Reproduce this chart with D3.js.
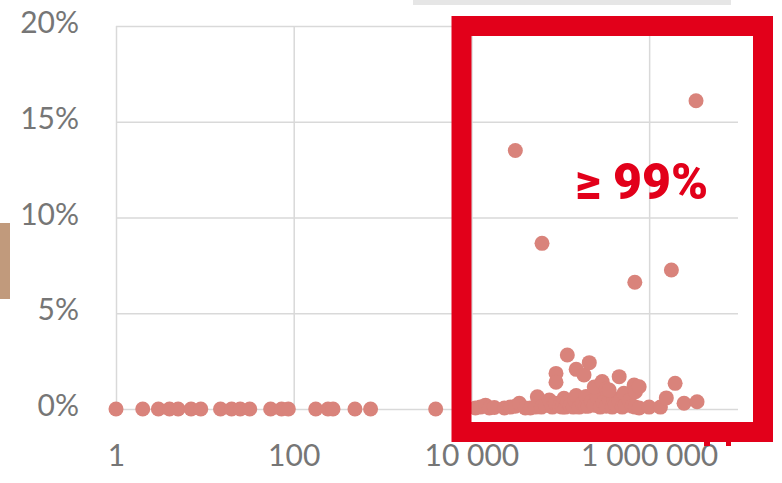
<!DOCTYPE html>
<html>
<head>
<meta charset="utf-8">
<script src="https://cdn.jsdelivr.net/npm/d3@7"></script>
<style>
  html, body { margin: 0; padding: 0; background: #fff; }
  svg { display: block; }
</style>
</head>
<body>
<svg id="chart" width="782" height="483"></svg>
<script>
// Share of revenue (y) against company size (x, log scale)
const sizeValues = [
  1, 2, 3, 4, 5, 7, 9, 15, 20, 25, 32, 55, 73, 87, 177, 243, 277, 489, 733, 3960,
  11100, 12600, 14400, 15900, 18100, 23500, 27400, 31200, 34600, 40400, 46000, 52400,
  55200, 61200, 67800, 75200, 81300, 87900, 97500, 105000, 110000, 114000, 120000,
  129000, 140000, 145000, 151000, 163000, 177000, 191000, 195000, 206000, 223000,
  241000, 261000, 281000, 304000, 329000, 355000, 384000, 400000, 415000, 460000,
  498000, 520000, 538000, 596000, 644000, 696000, 772000, 998000, 1340000,
  // raised points inside the cluster
  89500, 89500, 120000, 151000, 185000, 212000, 241000, 296000, 330000, 355000,
  460000, 678000, 700000, 772000, 1560000, 1960000, 2470000, 3460000,
  // outliers
  31200, 62300, 690000, 1780000, 3370000
];
const shareValues = [
  0, 0, 0, 0, 0, 0, 0, 0, 0, 0, 0, 0, 0, 0, 0, 0, 0, 0, 0, 0,
  0.05, 0.1, 0.2, 0.05, 0.08, 0.05, 0.1, 0.15, 0.3, 0.05, 0.05, 0.1,
  0.64, 0.1, 0.2, 0.47, 0.1, 0.3, 0.15, 0.1, 0.56, 0.1, 0.35,
  0.2, 0.1, 0.45, 0.7, 0.1, 0.3, 0.15, 0.65, 0.15, 0.4,
  0.2, 0.6, 0.1, 0.35, 0.15, 0.5, 0.1, 0.55, 0.25, 0.4,
  0.1, 0.82, 0.2, 0.45, 0.15, 0.1, 0.05, 0.1, 0.1,
  1.86, 1.4, 2.82, 2.07, 1.78, 2.42, 1.15, 1.43, 1.05, 0.99,
  1.69, 1.25, 0.9, 1.16, 0.58, 1.34, 0.3, 0.38,
  13.5, 8.65, 6.62, 7.26, 16.1
];
const xTicks = [1, 100, 10000, 1000000];
const xTickLabels = ["1", "100", "10 000", "1 000 000"];
const yTicks = [0, 5, 10, 15, 20];
const highlightLabel = "≥ 99%";

const svg = d3.select("#chart");
const margin = { left: 116, right: 44, top: 26, bottom: 74 };
const W = 782, H = 483;

const x = d3.scaleLog().domain([1, 1e7]).range([margin.left, W - margin.right]);
const y = d3.scaleLinear().domain([0, 20]).range([H - margin.bottom, margin.top]);

// faint bar across the top and side swatch
svg.append("rect").attr("x", 413).attr("y", 0).attr("width", 318).attr("height", 5).attr("fill", "#e6e6e6");
svg.append("rect").attr("x", 0).attr("y", 223).attr("width", 10).attr("height", 76).attr("fill", "#c19a7c");

const labelFont = sel => sel
  .attr("fill", "#767676")
  .style("font-family", "Lato, 'Open Sans', sans-serif")
  .style("font-weight", 400)
  .style("font-size", "30px");

// gridlines
const yAxis = d3.axisLeft(y).tickValues(yTicks).tickFormat(d => d + "%").tickSize(-(W - margin.right - margin.left)).tickPadding(37);
const gy = svg.append("g").attr("transform", `translate(${margin.left},0)`).call(yAxis);
gy.select(".domain").remove();
gy.selectAll(".tick line").attr("stroke", "#d9d9d9").attr("stroke-width", 1.5);
gy.selectAll(".tick text").call(labelFont).attr("dy", "0.22em");

const xAxis = d3.axisBottom(x).tickValues(xTicks).tickFormat((d, i) => xTickLabels[i]).tickSize(-(y(0) - margin.top)).tickPadding(54);
const gx = svg.append("g").attr("transform", `translate(0,${y(0)})`).call(xAxis);
gx.select(".domain").remove();
gx.selectAll(".tick line").attr("stroke", "#d9d9d9").attr("stroke-width", 1.5);
gx.selectAll(".tick text").call(labelFont).attr("dy", "0.1em");

// points
const points = sizeValues.map((v, i) => ({ size: v, share: shareValues[i] }));
svg.append("g").selectAll("circle").data(points).join("circle")
  .attr("cx", d => x(d.size))
  .attr("cy", d => y(d.share))
  .attr("r", 7.5)
  .attr("fill", "#d9837b");

// highlight frame around the largest firms
const frame = svg.append("g");
frame.append("rect")
  .attr("x", 461.5).attr("y", 26)
  .attr("width", 301.5).attr("height", 406)
  .attr("fill", "none").attr("stroke", "#e2001a").attr("stroke-width", 20);
frame.append("rect").attr("x", 704).attr("y", 440).attr("width", 6).attr("height", 6).attr("fill", "#e2001a");
frame.append("rect").attr("x", 726).attr("y", 440).attr("width", 5).attr("height", 6).attr("fill", "#e2001a");

svg.append("text")
  .attr("x", 575).attr("y", 199)
  .attr("fill", "#e2001a")
  .style("font-family", "Roboto, sans-serif")
  .style("font-weight", 900)
  .style("font-size", "50px")
  .text(highlightLabel);
</script>
</body>
</html>
